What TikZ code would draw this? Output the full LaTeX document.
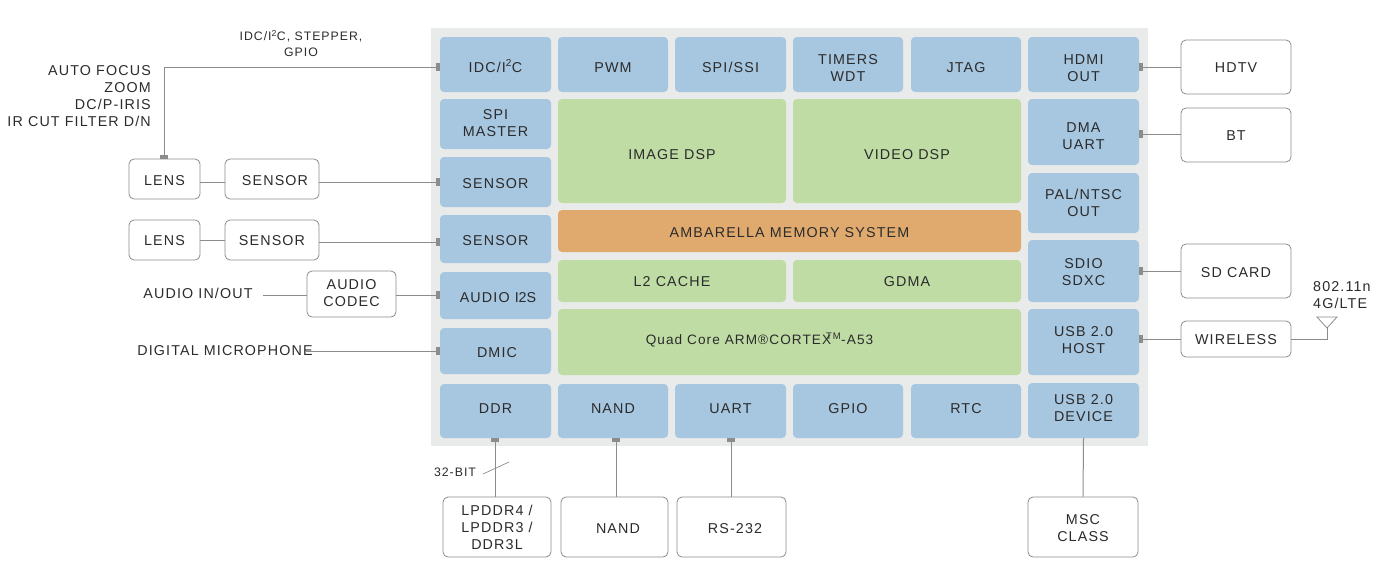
\documentclass[tikz,border=0pt]{standalone}
\usepackage{fontspec}
\setmainfont[LetterSpace=8]{Liberation Sans}
\newfontfamily\tightfont{Liberation Sans}
\definecolor{chipbg}{HTML}{E9EBEA}
\definecolor{blockblue}{HTML}{A7C6E0}
\definecolor{blockgreen}{HTML}{BFDCA5}
\definecolor{blockorange}{HTML}{E0AA6E}
\definecolor{linegray}{HTML}{8C8C8C}
\definecolor{inkgray}{HTML}{2B2B2B}
\tikzset{
  txt/.style={inner sep=0pt, align=center, text=inkgray, font=\fontsize{14.3}{17}\selectfont},
  smalltxt/.style={txt, font=\fontsize{12.3}{15.5}\selectfont},
  span/.style n args={4}{at={({(#1+#3)/2},{(#2+#4)/2})}, minimum width={(#3-#1)*1pt}, minimum height={(#4-#2)*1pt}},
  dn/.style={text height={(10.4+2*#1)*1pt}},
  dnb/.style={text height={(27.4+2*#1)*1pt}},
  dnc/.style={text height={(44.4+2*#1)*1pt}},
  blue/.style={txt, rounded corners=4pt, fill=blockblue},
  green/.style={txt, rounded corners=4pt, fill=blockgreen},
  extbox/.style={txt, rounded corners=5pt, draw=linegray, fill=white, line width=.8pt},
  tabh/.style={fill=linegray, inner sep=0pt, minimum width=4pt, minimum height=8pt},
  tabv/.style={fill=linegray, inner sep=0pt, minimum width=8pt, minimum height=4pt},
  wire/.style={draw=linegray, line width=1pt},
}
\begin{document}
\begin{tikzpicture}[x=1pt, y=-1pt]
\useasboundingbox (0,0) rectangle (1379,570);
\fill[chipbg](431,28) rectangle (1148,446);

\node[blue, dn=2.5, span={440}{37}{551}{92}](idc){IDC/I\textsuperscript{2}C};
\node[blue, dn=2.5, span={558}{37}{668}{92}](pwm){PWM};
\node[blue, dn=2.5, span={675}{37}{786}{92}](spi){SPI/SSI};
\node[blue, dnb=3, span={793}{37}{903}{92}](timers){TIMERS\\WDT};
\node[blue, dn=2.5, span={911}{37}{1021}{92}](jtag){JTAG};
\node[blue, dnb=3, span={1028}{37}{1139}{92}](hdmi){HDMI\\OUT};
\node[blue, dnb=-1, span={440}{99}{551}{149}](spimaster){SPI\\MASTER};
\node[blue, dn=1, span={440}{157}{551}{207}](senblka){SENSOR};
\node[blue, dn=1, span={440}{215}{551}{263}](senblkb){SENSOR};
\node[blue, dn=1.5, span={440}{272}{551}{319}](audio){\kern5pt AUDIO {\tightfont I2S}};
\node[blue, dn=1, span={440}{328}{551}{374}](dmic){\kern3pt DMIC};
\node[blue, dn=-3, span={440}{384}{551}{438}](ddr){DDR};
\node[blue, dn=-3, span={558}{384}{668}{438}](nand){NAND};
\node[blue, dn=-3, span={675}{384}{786}{438}](uart){UART};
\node[blue, dn=-3, span={793}{384}{903}{438}](gpio){GPIO};
\node[blue, dn=-3, span={911}{384}{1021}{438}](rtc){RTC};
\node[blue, dnb=-2.5, span={1028}{383}{1139}{438}](usbdev){USB 2.0\\DEVICE};
\node[blue, dnb=3.5, span={1028}{99}{1139}{165}](dma){DMA\\UART};
\node[blue, dnb=0, span={1028}{173}{1139}{233}](pal){PAL/NTSC\\OUT};
\node[blue, dnb=0.5, span={1028}{240}{1139}{302}](sdio){SDIO\\SDXC};
\node[blue, dnb=-2.5, span={1028}{309}{1139}{375}](usbhost){USB 2.0\\HOST};

\node[green, dn=3, span={558}{99}{786}{203}](imgdsp){IMAGE DSP};
\node[green, dn=3, span={793}{99}{1021}{203}](viddsp){VIDEO DSP};
\node[green, dn=.5, span={558}{260}{786}{302}](cache){L2 CACHE};
\node[green, dn=.5, span={793}{260}{1021}{302}](gdma){GDMA};
\node[green, dn=-1, font=\fontsize{13.6}{17}\selectfont, span={558}{309}{1021}{375}](arm){Quad Core ARM®CORTEX\kern-5pt\textsuperscript{TM}-A53\kern60pt};
\node[green, dn=1, fill=blockorange, span={558}{210}{1021}{252}](mem){AMBARELLA MEMORY SYSTEM};

\node[extbox, dn=1, span={129}{159}{200}{199}](lensa){LENS};
\node[extbox, dn=1, span={225}{159}{319}{199}](sensora){\kern6pt SENSOR};
\node[extbox, dn=.5, span={129}{220}{200}{260}](lensb){LENS};
\node[extbox, dn=.5, span={225}{220}{319}{260}](sensorb){SENSOR};
\node[extbox, dnb=-1, span={307}{271}{396}{317}](codec){AUDIO\\CODEC};
\node[extbox, dn=.5, span={1181}{40}{1291}{94}](hdtv){HDTV};
\node[extbox, dn=.5, span={1181}{108}{1291}{162}](bt){BT};
\node[extbox, dn=1, span={1181}{244}{1291}{298}](sdcard){SD CARD};
\node[extbox, dn=.5, span={1181}{321}{1291}{357}](wireless){WIRELESS};
\node[extbox, dnc=.5, span={443}{497}{551}{557}](lpddr){LPDDR4 /\\LPDDR3 /\\DDR3L};
\node[extbox, dn=1, span={561}{497}{668}{557}](nandext){\kern7pt NAND};
\node[extbox, dn=1, span={677}{497}{786}{557}](rs){\kern7pt RS-232};
\node[extbox, dnb=1, span={1028}{497}{1138}{557}](msc){MSC\\CLASS};

\node[smalltxt](idcnote) at (301,43.5){IDC/I\textsuperscript{2}C, STEPPER,\\GPIO};
\node[txt, align=right, anchor=east](focus) at (151,96.5){AUTO FOCUS\\ZOOM\\DC/P-IRIS\\IR CUT FILTER D/N};
\node[txt](audioio) at (198,293){AUDIO IN/OUT};
\node[txt](micro) at (225,351){DIGITAL MICROPHONE};
\node[txt, align=left, anchor=west](radio) at (1313,295.5){802.11n\\4G/LTE};
\node[smalltxt](bits) at (455,472){32-BIT};

\node[tabv](tlens) at (164,157){};
\foreach \nm/\yy in {tidc/67, tsena/182, tsenb/242, taudio/295, tdmic/351}
{
    \node[tabh](\nm) at (438,\yy){};
}
\foreach \nm/\yy in {thdmi/67, tdma/134, tsdio/271, tusb/339}
{
    \node[tabh](\nm) at (1141,\yy){};
}
\foreach \nm/\xx in {tddr/495, tnand/616, tuart/731}
{
    \node[tabv](\nm) at (\xx,440){};
}

\coordinate (audioend) at (263,295);
\coordinate (microend) at (305,351);
\coordinate (antfoot) at (1327,339);
\coordinate (anttip) at (1327,328);
\coordinate (antl) at (1317,317);
\coordinate (antr) at (1337,317);
\coordinate (slasha) at (483,474);
\coordinate (slashb) at (509,462);

\draw[wire](tlens) |- (tidc);
\draw[wire](lensa.east |- tsena) -- (sensora.west |- tsena);
\draw[wire](sensora.east |- tsena) -- (tsena);
\draw[wire](lensb.east) -- (sensorb.west);
\draw[wire](sensorb.east |- tsenb) -- (tsenb);
\draw[wire](audioend) -- (codec.west |- audioend);
\draw[wire](codec.east |- taudio) -- (taudio);
\draw[wire](microend) -- (tdmic);
\draw[wire](thdmi) -- (hdtv.west |- thdmi);
\draw[wire](tdma) -- (bt.west |- tdma);
\draw[wire](tsdio) -- (sdcard.west |- tsdio);
\draw[wire](tusb) -- (wireless.west |- tusb);
\draw[wire](wireless.east |- antfoot) -- (antfoot) -- (anttip);
\draw[draw=linegray, line width=.8pt](antl) -- (antr) -- (anttip) -- cycle;
\draw[wire](tddr) -- (tddr |- lpddr.north);
\draw[wire](tnand) -- (tnand |- nandext.north);
\draw[wire](tuart) -- (tuart |- rs.north);
\draw[wire](usbdev.south) -- (msc.north);
\draw[draw=linegray, line width=.7pt](slasha) -- (slashb);

\end{tikzpicture}
\end{document}
